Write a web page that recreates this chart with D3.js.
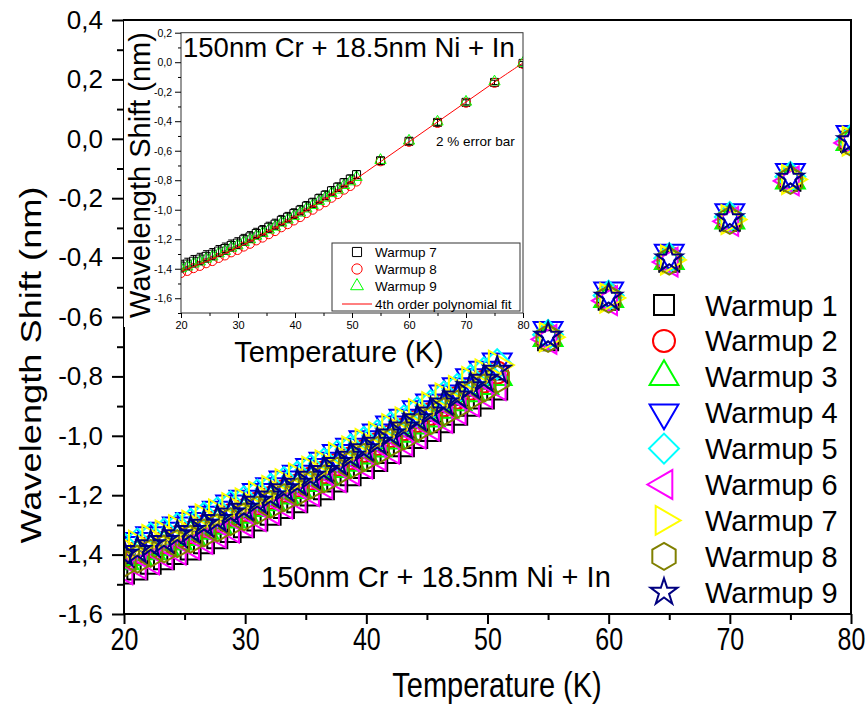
<!DOCTYPE html>
<html>
<head>
<meta charset="utf-8">
<script src="https://cdn.jsdelivr.net/npm/d3@7"></script>
<style>
body { margin: 0; background: #fff; }
text { font-family: "Liberation Sans", Arial, sans-serif; }
</style>
</head>
<body>
<script>
var w = 866;
var h = 704;

// temperatures (K) shared by every warmup run
var temps = [20.0, 21.1, 22.2, 23.3, 24.4, 25.5, 26.6, 27.7, 28.8, 29.9, 31.0, 32.1, 33.2, 34.3,
    35.4, 36.5, 37.6, 38.7, 39.8, 40.9, 42.0, 43.1, 44.2, 45.3, 46.4, 47.5, 48.6, 49.7, 50.8,
    55, 60, 65, 70, 75, 80];

var warmup1 = [-1.464, -1.450, -1.431, -1.416, -1.398, -1.383, -1.362, -1.345, -1.324, -1.308, -1.285, -1.266, -1.243, -1.224,
    -1.201, -1.180, -1.154, -1.133, -1.108, -1.085, -1.058, -1.035, -1.007, -0.984, -0.954, -0.929, -0.899, -0.874, -0.844,
    -0.678, -0.542, -0.414, -0.276, -0.141, -0.010];
var warmup2 = [-1.407, -1.393, -1.374, -1.359, -1.341, -1.326, -1.305, -1.288, -1.267, -1.251, -1.228, -1.209, -1.186, -1.167,
    -1.144, -1.123, -1.097, -1.076, -1.051, -1.028, -1.001, -0.978, -0.950, -0.927, -0.897, -0.872, -0.842, -0.817, -0.787,
    -0.662, -0.526, -0.400, -0.264, -0.130, -0.001];
var warmup3 = [-1.421, -1.407, -1.388, -1.373, -1.355, -1.340, -1.319, -1.302, -1.281, -1.265, -1.242, -1.223, -1.200, -1.181,
    -1.158, -1.137, -1.111, -1.090, -1.065, -1.042, -1.015, -0.992, -0.964, -0.941, -0.911, -0.886, -0.856, -0.831, -0.801,
    -0.670, -0.538, -0.410, -0.274, -0.139, -0.010];
var warmup4 = [-1.369, -1.355, -1.336, -1.321, -1.303, -1.288, -1.267, -1.250, -1.229, -1.213, -1.190, -1.171, -1.148, -1.129,
    -1.106, -1.085, -1.059, -1.038, -1.013, -0.990, -0.963, -0.940, -0.912, -0.889, -0.859, -0.834, -0.804, -0.779, -0.751,
    -0.645, -0.512, -0.385, -0.248, -0.113, 0.015];
var warmup5 = [-1.377, -1.363, -1.344, -1.329, -1.311, -1.296, -1.275, -1.258, -1.237, -1.221, -1.198, -1.179, -1.156, -1.137,
    -1.114, -1.093, -1.067, -1.046, -1.021, -0.998, -0.971, -0.948, -0.920, -0.897, -0.867, -0.842, -0.812, -0.787, -0.759,
    -0.660, -0.528, -0.402, -0.263, -0.128, -0.002];
var warmup6 = [-1.451, -1.433, -1.418, -1.399, -1.385, -1.366, -1.349, -1.328, -1.311, -1.291, -1.272, -1.249, -1.230, -1.207,
    -1.188, -1.163, -1.141, -1.116, -1.095, -1.068, -1.045, -1.018, -0.994, -0.967, -0.941, -0.912, -0.886, -0.857, -0.831,
    -0.675, -0.545, -0.415, -0.278, -0.142, -0.014];
var warmup7 = [-1.382, -1.368, -1.349, -1.334, -1.316, -1.301, -1.280, -1.263, -1.242, -1.226, -1.203, -1.184, -1.161, -1.142,
    -1.119, -1.098, -1.072, -1.051, -1.026, -1.003, -0.976, -0.953, -0.925, -0.902, -0.872, -0.847, -0.817, -0.792, -0.762,
    -0.668, -0.536, -0.408, -0.272, -0.137, -0.008];
var warmup8 = [-1.429, -1.415, -1.396, -1.381, -1.363, -1.348, -1.327, -1.310, -1.289, -1.273, -1.250, -1.231, -1.208, -1.189,
    -1.166, -1.145, -1.119, -1.098, -1.073, -1.050, -1.023, -1.000, -0.972, -0.949, -0.919, -0.894, -0.864, -0.839, -0.809,
    -0.672, -0.540, -0.412, -0.275, -0.140, -0.012];
var warmup9 = [-1.398, -1.386, -1.366, -1.352, -1.333, -1.318, -1.297, -1.281, -1.259, -1.243, -1.220, -1.202, -1.178, -1.159,
    -1.136, -1.116, -1.089, -1.068, -1.043, -1.021, -0.993, -0.970, -0.942, -0.919, -0.889, -0.865, -0.834, -0.809, -0.779,
    -0.664, -0.533, -0.404, -0.269, -0.132, -0.006];

var seriesNames = ["Warmup 1", "Warmup 2", "Warmup 3", "Warmup 4", "Warmup 5",
    "Warmup 6", "Warmup 7", "Warmup 8", "Warmup 9"];
var seriesValues = [warmup1, warmup2, warmup3, warmup4, warmup5, warmup6, warmup7, warmup8, warmup9];

// 4th order polynomial fit (inset), sampled
var fitTemps = [20, 25, 30, 35, 40, 45, 50, 55, 60, 65, 70, 75, 80];
var fitValues = [-1.420, -1.340, -1.255, -1.155, -1.050, -0.935, -0.810, -0.675, -0.540, -0.405, -0.270, -0.135, -0.005];
var errorFraction = 0.02;

var yMajor = [-1.6, -1.4, -1.2, -1.0, -0.8, -0.6, -0.4, -0.2, 0.0, 0.2, 0.4];
var yMinor = [-1.5, -1.3, -1.1, -0.9, -0.7, -0.5, -0.3, -0.1, 0.1, 0.3];
var xMajor = [20, 30, 40, 50, 60, 70, 80];
var xMinor = [25, 35, 45, 55, 65, 75];
var insetYMajor = [-1.6, -1.4, -1.2, -1.0, -0.8, -0.6, -0.4, -0.2, 0.0, 0.2];
var insetYMinor = [-1.7, -1.5, -1.3, -1.1, -0.9, -0.7, -0.5, -0.3, -0.1, 0.1];

var svg = d3.select("body")
    .append("svg")
    .attr("width", w)
    .attr("height", h);

var x = d3.scaleLinear().domain([20, 80]).range([124, 851]);
var y = d3.scaleLinear().domain([-1.6, 0.4]).range([614, 20]);

function fmt(d) { return d.toFixed(1).replace(".", ","); }

// hexagon, pointy top
var symbolHexagon = {
    draw: function(ctx, size) {
        var r = Math.sqrt(size * 2 / (3 * Math.sqrt(3)));
        for (var i = 0; i < 6; i++) {
            var a = (-90 + 60 * i) * Math.PI / 180;
            if (i === 0) ctx.moveTo(r * Math.cos(a), r * Math.sin(a));
            else ctx.lineTo(r * Math.cos(a), r * Math.sin(a));
        }
        ctx.closePath();
    }
};

var markers = [
    {type: d3.symbolSquare, size: 400, rot: 0, color: "#000000"},
    {type: d3.symbolCircle, size: 380, rot: 0, color: "#ff0000"},
    {type: d3.symbolTriangle, size: 360, rot: 0, color: "#00ff00"},
    {type: d3.symbolTriangle, size: 360, rot: 180, color: "#0000ff"},
    {type: d3.symbolSquare, size: 450, rot: 45, color: "#00ffff"},
    {type: d3.symbolTriangle, size: 360, rot: -90, color: "#ff00ff"},
    {type: d3.symbolTriangle, size: 360, rot: 90, color: "#ffff00"},
    {type: symbolHexagon, size: 473, rot: 0, color: "#808000"},
    {type: d3.symbolStar, size: 220, rot: 0, color: "#000080"}
];

function styleAxis(g, fontSize, strokeW) {
    g.select(".domain").remove();
    g.attr("font-family", null).attr("font-size", null);
    g.selectAll("line").attr("stroke", "#000").attr("stroke-width", strokeW);
    g.selectAll("text").attr("fill", "#000").style("font-size", fontSize + "px");
}

// ---------- main chart ----------
svg.append("defs").append("clipPath").attr("id", "mainclip")
    .append("rect").attr("x", 124).attr("y", 20).attr("width", 727).attr("height", 594);

var plot = svg.append("g").attr("clip-path", "url(#mainclip)");

seriesValues.forEach(function(vals, i) {
    var m = markers[i];
    plot.append("g")
        .selectAll("path")
        .data(vals.map(function(v, j) { return [temps[j], v]; }))
        .enter()
        .append("path")
        .attr("d", d3.symbol().type(m.type).size(m.size))
        .attr("transform", function(d) {
            return "translate(" + x(d[0]) + "," + y(d[1]) + ") rotate(" + m.rot + ")";
        })
        .attr("fill", "none")
        .attr("stroke", m.color)
        .attr("stroke-width", 2);
});

svg.append("rect")
    .attr("x", 124).attr("y", 20)
    .attr("width", 727).attr("height", 594)
    .attr("fill", "none")
    .attr("stroke", "#000")
    .attr("stroke-width", 2);

svg.append("g").attr("transform", "translate(124,0)")
    .call(d3.axisLeft(y).tickValues(yMajor).tickSize(12).tickPadding(9).tickFormat(fmt))
    .call(styleAxis, 26, 2);
svg.append("g").attr("transform", "translate(124,0)")
    .call(d3.axisLeft(y).tickValues(yMinor).tickSize(7).tickFormat(""))
    .call(styleAxis, 26, 2);
svg.append("g").attr("transform", "translate(0,614)")
    .call(d3.axisBottom(x).tickValues(xMajor).tickSize(10).tickFormat(d3.format("d")))
    .call(styleAxis, 25, 2)
    .call(function(g) {
        // tall, narrow digits as in the original export
        g.selectAll("text").attr("y", 0).attr("dy", null)
            .attr("transform", "translate(0,36) scale(1,1.25)");
    });
svg.append("g").attr("transform", "translate(0,614)")
    .call(d3.axisBottom(x).tickValues(xMinor).tickSize(6).tickFormat(""))
    .call(styleAxis, 26, 2);

svg.append("text")
    .attr("transform", "translate(497,697) scale(1,1.2)")
    .attr("text-anchor", "middle")
    .style("font-size", "29px")
    .text("Temperature (K)");

svg.append("text")
    .attr("transform", "translate(41,365) rotate(-90) scale(1.25,1)")
    .attr("text-anchor", "middle")
    .style("font-size", "29px")
    .text("Wavelength Shift (nm)");

svg.append("text")
    .attr("x", 261).attr("y", 587)
    .style("font-size", "29px")
    .text("150nm Cr + 18.5nm Ni + In");

// legend
var legend = svg.append("g");
seriesNames.forEach(function(name, i) {
    var m = markers[i];
    var ly = 305 + i * 35.9;
    legend.append("path")
        .attr("d", d3.symbol().type(m.type).size(m.size))
        .attr("transform", "translate(664," + ly + ") rotate(" + m.rot + ")")
        .attr("fill", "none")
        .attr("stroke", m.color)
        .attr("stroke-width", 2);
    legend.append("text")
        .attr("x", 705).attr("y", ly + 10.5)
        .style("font-size", "29px")
        .text(name);
});

// ---------- inset ----------
var xi = d3.scaleLinear().domain([20, 80]).range([181, 523]);
var yi = d3.scaleLinear().domain([-1.7, 0.2]).range([313, 32.7]);

svg.append("rect")
    .attr("x", 123).attr("y", 21)
    .attr("width", 405).attr("height", 306)
    .attr("fill", "#fff");
svg.append("line")
    .attr("x1", 123.5).attr("x2", 123.5)
    .attr("y1", 20).attr("y2", 328)
    .attr("stroke", "#000").attr("stroke-width", 1);

svg.select("defs").append("clipPath").attr("id", "insetclip")
    .append("rect").attr("x", 181).attr("y", 32.7).attr("width", 342).attr("height", 280.3);

var inset = svg.append("g").attr("clip-path", "url(#insetclip)");

var insetMarkers = [
    {type: d3.symbolSquare, size: 64, color: "#000000"},
    {type: d3.symbolCircle, size: 64, color: "#ff0000"},
    {type: d3.symbolTriangle, size: 55, color: "#00ff00"}
];
var insetSeries = [warmup7, warmup8, warmup9];

insetSeries.forEach(function(vals, i) {
    var m = insetMarkers[i];
    var pts = vals.map(function(v, j) { return [temps[j], v]; });
    inset.append("g")
        .selectAll("path")
        .data(pts)
        .enter()
        .append("path")
        .attr("d", d3.symbol().type(m.type).size(m.size))
        .attr("transform", function(d) { return "translate(" + xi(d[0]) + "," + yi(d[1]) + ")"; })
        .attr("fill", "none")
        .attr("stroke", m.color)
        .attr("stroke-width", 1);
});

// 2 % error bars on warmup 7
var eb = inset.append("g").attr("stroke", "#000").attr("stroke-width", 1);
warmup7.forEach(function(v, j) {
    var cx = xi(temps[j]);
    var e = Math.abs(v) * errorFraction + 0.012;
    eb.append("line").attr("x1", cx).attr("x2", cx).attr("y1", yi(v - e)).attr("y2", yi(v + e));
    eb.append("line").attr("x1", cx - 3).attr("x2", cx + 3).attr("y1", yi(v - e)).attr("y2", yi(v - e));
    eb.append("line").attr("x1", cx - 3).attr("x2", cx + 3).attr("y1", yi(v + e)).attr("y2", yi(v + e));
});

inset.append("path")
    .datum(fitTemps.map(function(t, j) { return [t, fitValues[j]]; }))
    .attr("d", d3.line()
        .x(function(d) { return xi(d[0]); })
        .y(function(d) { return yi(d[1]); })
        .curve(d3.curveCatmullRom))
    .attr("fill", "none")
    .attr("stroke", "#ff0000")
    .attr("stroke-width", 1);

svg.append("rect")
    .attr("x", 181).attr("y", 32.7)
    .attr("width", 342).attr("height", 280.3)
    .attr("fill", "none")
    .attr("stroke", "#333")
    .attr("stroke-width", 1);

svg.append("g").attr("transform", "translate(181,0)")
    .call(d3.axisLeft(yi).tickValues(insetYMajor).tickSize(6).tickPadding(3).tickFormat(fmt))
    .call(styleAxis, 10.5, 1);
svg.append("g").attr("transform", "translate(181,0)")
    .call(d3.axisLeft(yi).tickValues(insetYMinor).tickSize(3).tickFormat(""))
    .call(styleAxis, 10.5, 1);
svg.append("g").attr("transform", "translate(0,313)")
    .call(d3.axisBottom(xi).tickValues(xMajor).tickSize(5).tickPadding(3).tickFormat(d3.format("d")))
    .call(styleAxis, 11, 1);
svg.append("g").attr("transform", "translate(0,313)")
    .call(d3.axisBottom(xi).tickValues(xMinor).tickSize(3).tickFormat(""))
    .call(styleAxis, 11, 1);

svg.append("text")
    .attr("x", 339).attr("y", 362)
    .attr("text-anchor", "middle")
    .style("font-size", "29px")
    .text("Temperature (K)");

svg.append("text")
    .attr("transform", "translate(150,175) rotate(-90)")
    .attr("text-anchor", "middle")
    .style("font-size", "29px")
    .text("Wavelength Shift (nm)");

svg.append("text")
    .attr("x", 183).attr("y", 56.5)
    .style("font-size", "27.5px")
    .text("150nm Cr + 18.5nm Ni + In");

svg.append("text")
    .attr("x", 436).attr("y", 146)
    .style("font-size", "13.5px")
    .text("2 % error bar");

// inset legend
var il = svg.append("g");
il.append("rect")
    .attr("x", 332).attr("y", 243)
    .attr("width", 188).attr("height", 68)
    .attr("fill", "#fff")
    .attr("stroke", "#333")
    .attr("stroke-width", 1);
["Warmup 7", "Warmup 8", "Warmup 9"].forEach(function(name, i) {
    var m = insetMarkers[i];
    var ly = 252 + i * 17;
    il.append("path")
        .attr("d", d3.symbol().type(m.type).size(m.size * 1.3))
        .attr("transform", "translate(357," + ly + ")")
        .attr("fill", "none")
        .attr("stroke", m.color)
        .attr("stroke-width", 1);
    il.append("text")
        .attr("x", 375).attr("y", ly + 5)
        .style("font-size", "13.5px")
        .text(name);
});
il.append("line")
    .attr("x1", 342).attr("x2", 372)
    .attr("y1", 304).attr("y2", 304)
    .attr("stroke", "#ff0000").attr("stroke-width", 1);
il.append("text")
    .attr("x", 375).attr("y", 309)
    .style("font-size", "13.5px")
    .text("4th order polynomial fit");
</script>
</body>
</html>
